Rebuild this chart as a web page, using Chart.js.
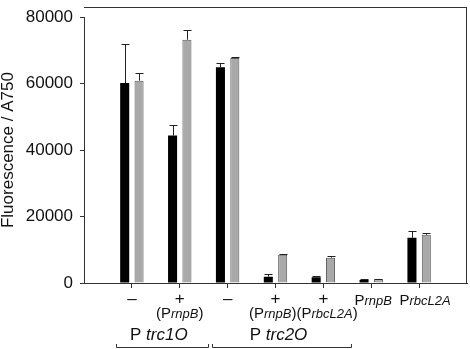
<!DOCTYPE html>
<html>
<head>
  <meta charset="UTF-8">
  <title>Fluorescence / A750</title>
  <script src="https://cdn.jsdelivr.net/npm/chart.js"></script>
  <style>
    html, body { margin: 0; padding: 0; background: #fff; overflow: hidden; }
    .wrap { width: 470px; height: 349px; position: relative; }
    canvas { display: block; }
  </style>
</head>
<body>
  <div class="wrap"><canvas id="chart" width="470" height="349"></canvas></div>
  <script>
    // data
    const positions = [1, 2, 3, 4, 5, 6, 7];
    const blackValues = [60200, 44400, 64900, 1900, 1700, 870, 13600];
    const blackErrors = [11700, 3100, 1200, 900, 300, 200, 2200];
    const grayValues = [60900, 73200, 67700, 8500, 7600, 1160, 14500];
    const grayErrors = [2300, 2800, 250, 150, 500, 150, 650];
    const yTicks = [0, 20000, 40000, 60000, 80000];

    // label text: odd entries are italic
    const rowOne = [['–'], ['+'], ['–'], ['+'], ['+'], ['P', 'rnpB'], ['P', 'rbcL2A']];
    const rowTwo = [null, ['(P', 'rnpB', ')'], null, ['(P', 'rnpB', ')'], ['(P', 'rbcL2A', ')'], null, null];
    const groups = [
      { parts: ['P ', 'trc1O'], from: 1, to: 2 },
      { parts: ['P ', 'trc2O'], from: 3, to: 5 }
    ];

    const FONT = '"Liberation Sans", Arial, sans-serif';

    function drawParts(ctx, parts, x, y, size, small, align) {
      const fonts = parts.map((p, i) => i % 2 ? `italic ${small}px ${FONT}` : `${size}px ${FONT}`);
      let total = 0;
      const widths = parts.map((p, i) => { ctx.font = fonts[i]; const w = ctx.measureText(p).width; total += w; return w; });
      let cx = align === 'left' ? x : align === 'right' ? x - total : x - total / 2;
      parts.forEach((p, i) => {
        ctx.font = fonts[i];
        ctx.fillText(p, cx, y);
        cx += widths[i];
      });
    }

    const extras = {
      id: 'extras',
      afterDatasetsDraw(chart) {
        const ctx = chart.ctx;
        const y = chart.scales.y;
        ctx.save();
        ctx.strokeStyle = '#222';
        ctx.lineWidth = 1;
        const errs = [blackErrors, grayErrors];
        chart.data.datasets.forEach((ds, di) => {
          chart.getDatasetMeta(di).data.forEach((bar, i) => {
            const e = errs[di][i];
            if (!e) return;
            const x = Math.round(bar.x) + 0.5;
            const top = Math.round(y.getPixelForValue(ds.data[i].y + e)) + 0.5;
            ctx.beginPath();
            ctx.moveTo(x, bar.y);
            ctx.lineTo(x, top);
            ctx.moveTo(x - 4, top);
            ctx.lineTo(x + 4, top);
            ctx.stroke();
          });
        });
        ctx.restore();
      },
      afterDraw(chart) {
        const ctx = chart.ctx;
        const a = chart.chartArea;
        const xs = chart.scales.x;
        ctx.save();
        // top and right frame
        ctx.fillStyle = '#333';
        ctx.fillRect(a.left, 7, 467 - a.left, 1);
        ctx.fillRect(466, 7, 1, a.bottom - 7);

        ctx.strokeStyle = '#333';
        ctx.lineWidth = 1;
        ctx.fillStyle = '#111';
        ctx.textBaseline = 'alphabetic';
        rowOne.forEach((parts, i) => {
          const px = xs.getPixelForValue(positions[i]);
          if (parts.length === 1) drawParts(ctx, parts, px, 304, 17, 14);
          else drawParts(ctx, parts, px + (i === 6 ? 6 : 2), 305, 15, 13);
        });
        rowTwo.forEach((parts, i) => {
          if (!parts) return;
          const px = xs.getPixelForValue(positions[i]);
          let align = 'center', ax = px;
          if (rowTwo[i + 1]) { align = 'right'; ax = (px + xs.getPixelForValue(positions[i + 1])) / 2 - 3; }
          else if (rowTwo[i - 1]) { align = 'left'; ax = (px + xs.getPixelForValue(positions[i - 1])) / 2 - 3; }
          drawParts(ctx, parts, ax, 318, 15, 13, align);
        });
        groups.forEach(g => {
          const x1 = xs.getPixelForValue(g.from);
          const x2 = xs.getPixelForValue(g.to);
          drawParts(ctx, g.parts, (x1 + x2) / 2 + 3, 340, 17, 17);
          const l = Math.round(x1 - 16) + 0.5, r = Math.round(x2 + 28) + 0.5;
          ctx.beginPath();
          ctx.moveTo(l, 344);
          ctx.lineTo(l, 347.5);
          ctx.lineTo(r, 347.5);
          ctx.lineTo(r, 344);
          ctx.stroke();
        });
        ctx.restore();
      }
    };

    new Chart(document.getElementById('chart'), {
      type: 'bar',
      data: {
        datasets: [
          {
            data: positions.map((p, i) => ({ x: p, y: blackValues[i] })),
            backgroundColor: '#000',
            borderColor: '#000',
            borderWidth: 0
          },
          {
            data: positions.map((p, i) => ({ x: p, y: grayValues[i] })),
            backgroundColor: '#a9a9a9',
            borderColor: '#5a5a5a',
            borderWidth: 1,
            borderSkipped: 'bottom'
          }
        ]
      },
      options: {
        responsive: false,
        animation: false,
        categoryPercentage: 0.6,
        barPercentage: 0.63,
        layout: { padding: { left: 0, top: 7, right: 3, bottom: 0 } },
        plugins: { legend: { display: false }, tooltip: { enabled: false } },
        scales: {
          x: {
            type: 'linear',
            min: 0,
            max: 8,
            offset: false,
            afterBuildTicks(scale) { scale.ticks = positions.map(v => ({ value: v })); },
            afterFit(scale) { scale.height = 66; },
            ticks: { display: false },
            grid: { offset: false, drawOnChartArea: false, drawTicks: true, tickLength: 5, color: '#333' },
            border: { color: '#333', width: 1 }
          },
          y: {
            min: 0,
            max: 80000,
            afterBuildTicks(scale) { scale.ticks = yTicks.map(v => ({ value: v })); },
            afterFit(scale) { scale.width = 84; },
            ticks: {
              padding: 7,
              color: '#111',
              font: { family: FONT, size: 17 },
              callback: v => String(v)
            },
            grid: { drawOnChartArea: false, drawTicks: true, tickLength: 4, color: '#333' },
            border: { color: '#333', width: 1 },
            title: {
              display: true,
              text: 'Fluorescence / A750',
              color: '#111',
              font: { family: FONT, size: 17, lineHeight: 1 },
              padding: 0
            }
          }
        }
      },
      plugins: [extras]
    });
  </script>
</body>
</html>
